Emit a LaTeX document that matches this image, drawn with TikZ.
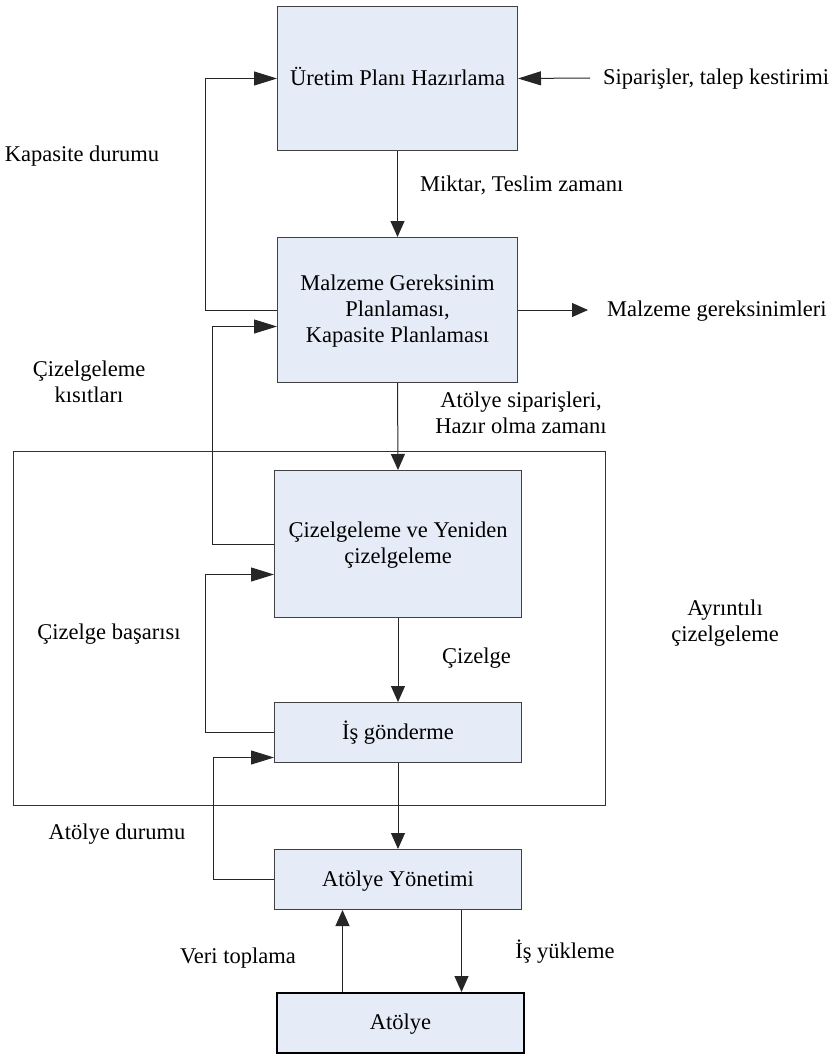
\documentclass[tikz,border=0pt]{standalone}
\usepackage{fontspec}
\setmainfont{Liberation Serif}
\usetikzlibrary{arrows.meta}
\definecolor{boxfill}{RGB}{230,236,247}
\begin{document}
\begin{tikzpicture}[x=1pt,y=-1pt,
  every node/.style={font=\fontsize{22.5}{26}\selectfont, text height=15.75pt, text depth=2.25pt},
  twolines/.style={text height=41.75pt},
  threelines/.style={text height=67.75pt},
  box/.style={draw=black!75, fill=boxfill, line width=1pt, inner sep=0pt, anchor=north west, align=center},
  lbl/.style={inner sep=0pt, align=center},
  link/.style={draw=black!85, line width=1pt},
  longtip/.style={link, -{Triangle[length=23pt,width=14pt]}},
  shorttip/.style={link, -{Triangle[length=16pt,width=14pt]}}]
\useasboundingbox (0,0) rectangle (834,1054);

% frame of the detailed scheduling level
\node[draw=black!80, line width=1pt, inner sep=0pt, anchor=north west,
      minimum width=592pt, minimum height=354pt] (ayr) at (13,451) {};

% process boxes
\node[box, minimum width=240pt, minimum height=144pt] (b1) at (277,6) {Üretim Planı Hazırlama};
\node[box, threelines, minimum width=240pt, minimum height=145pt] (b2) at (277,237) {Malzeme Gereksinim\\Planlaması,\\Kapasite Planlaması};
\node[box, twolines, minimum width=247pt, minimum height=147pt] (b3) at (274,470) {Çizelgeleme ve Yeniden\\çizelgeleme};
\node[box, minimum width=247pt, minimum height=60pt] (b4) at (274,702) {İş gönderme};
\node[box, minimum width=247pt, minimum height=60pt] (b5) at (274,849) {Atölye Yönetimi};
\node[box, draw=black, line width=2pt, minimum width=247pt, minimum height=60pt] (b6) at (276,992) {Atölye};

% labels
\node[lbl, anchor=west] (sip) at (603,78) {Siparişler, talep kestirimi};
\node[lbl, anchor=west] (mg) at (607,310) {Malzeme gereksinimleri};
\node[lbl] (kap) at (82,155) {Kapasite durumu};
\node[lbl, anchor=west] (mik) at (420,185) {Miktar, Teslim zamanı};
\node[lbl, twolines] (kis) at (89,383) {Çizelgeleme\\kısıtları};
\node[lbl, twolines] (ats) at (521,414) {Atölye siparişleri,\\Hazır olma zamanı};
\node[lbl, twolines] (aycz) at (725,622) {Ayrıntılı\\çizelgeleme};
\node[lbl] (bas) at (109,633) {Çizelge başarısı};
\node[lbl, anchor=west] (cz) at (442,657) {Çizelge};
\node[lbl] (atd) at (117,833) {Atölye durumu};
\node[lbl] (veri) at (238,957) {Veri toplama};
\node[lbl] (yuk) at (565,952) {İş yükleme};

% main flow
\draw[shorttip] (b1.south) -- (b2.north);
\draw[shorttip] (b2.south) -- (b3.north);
\draw[shorttip] (b3.south) -- (b4.north);
\draw[shorttip] (b4.south) -- (b5.north);

% inputs and outputs
\draw[longtip] ([xshift=-13pt]sip.west) -- (b1.east);
\draw[shorttip] (b2.east) -- ([xshift=-19pt]mg.west);

% feedback loops
\draw[longtip] (b2.west) -- ++(-72,0) |- (b1.west);
\draw[longtip] (b3.west) -- ++(-62,0) |- ([yshift=-16.5pt]b2.west);
\draw[longtip] (b4.west) -- ++(-69,0) |- ([yshift=-30.5pt]b3.west);
\draw[longtip] (b5.west) -- ++(-61,0) |- ([yshift=-25pt]b4.west);

% shop floor exchange
\coordinate (vt) at ([xshift=-55.5pt]b5.south);
\coordinate (yk) at ([xshift=63.5pt]b5.south);
\draw[shorttip] (vt |- b6.north) -- (vt);
\draw[shorttip] (yk) -- (yk |- b6.north);
\end{tikzpicture}
\end{document}
